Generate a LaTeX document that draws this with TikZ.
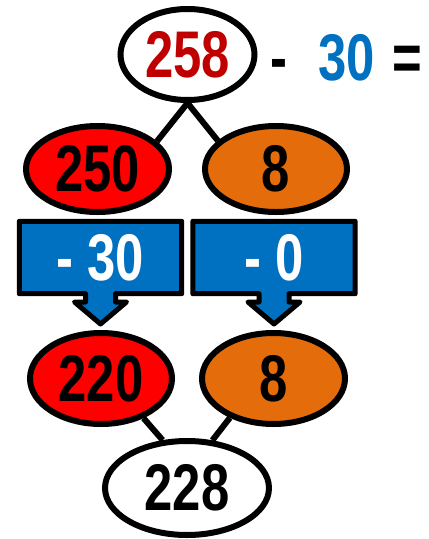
\documentclass[tikz,border=0pt]{standalone}
\usepackage{fontspec}
\newfontfamily\nf[FakeStretch=0.77]{Liberation Sans}
\usetikzlibrary{shapes.geometric,backgrounds}
\definecolor{fillred}{HTML}{FF0000}
\definecolor{fillorange}{HTML}{E46C0A}
\definecolor{txtred}{HTML}{C00000}
\definecolor{boxblue}{HTML}{0070C0}
\tikzset{
  num/.style={font=\nf\bfseries\fontsize{66}{66}\selectfont},
  oval/.style={ellipse, draw=black, line width=6pt, inner sep=0pt, num},
  link/.style={draw=black, line width=6pt},
  callout/.style={fill=boxblue, draw=black, line width=5pt, line join=round},
  boxtext/.style={num, text=white, inner sep=0pt, minimum width=162pt, minimum height=72pt},
  eqtext/.style={num, inner sep=0pt, anchor=base},
}
\begin{document}
\begin{tikzpicture}[x=1pt,y=-1pt]
\useasboundingbox (0,0) rectangle (429,539);
% ovals
\node[oval, fill=white, text=txtred, minimum width=134pt, minimum height=91pt] (top) at (187.5,54.5) {258};
\node[oval, fill=fillred, minimum width=143pt, minimum height=86pt] (l1) at (97.5,169) {250};
\node[oval, fill=fillorange, minimum width=142pt, minimum height=86pt] (l2) at (276,169) {8};
\node[oval, fill=fillred, minimum width=142pt, minimum height=91pt] (b1) at (101,378.5) {220};
\node[oval, fill=fillorange, minimum width=143pt, minimum height=91pt] (b2) at (273.5,378.5) {8};
\node[oval, fill=white, minimum width=164pt, minimum height=94pt] (bot) at (187,488) {228};
% equation text
\node[eqtext] (minus) at (278.5,80) {-};
\node[eqtext, text=boxblue] (thirty) at (346.5,80) {30};
\node[eqtext] (eq) at (407,80) {=};
% connectors
\begin{scope}[on background layer]
\draw[link] (top.south) -- (l1.25);
\draw[link] (top.south) -- (l2.154);
\draw[link] (b1.-43) -- (bot.117);
\draw[link] (b2.222) -- (bot.62);
\end{scope}
% callout boxes
\node[boxtext] (c1) at (100.5,257.5) {};
\node[boxtext] (c2) at (274,257.5) {};
\draw[callout] (c1.north west) -- (c1.north east) -- (c1.south east)
  -- ([xshift=15pt]c1.south) -- ([xshift=15pt]c1.south |- 0,302) -- ([xshift=26pt]c1.south |- 0,302)
  -- (c1.south |- 0,324) -- ([xshift=-26pt]c1.south |- 0,302) -- ([xshift=-15pt]c1.south |- 0,302)
  -- ([xshift=-15pt]c1.south) -- (c1.south west) -- cycle;
\draw[callout] (c2.north west) -- (c2.north east) -- (c2.south east)
  -- ([xshift=15pt]c2.south) -- ([xshift=15pt]c2.south |- 0,302) -- ([xshift=26pt]c2.south |- 0,302)
  -- (c2.south |- 0,324) -- ([xshift=-26pt]c2.south |- 0,302) -- ([xshift=-15pt]c2.south |- 0,302)
  -- ([xshift=-15pt]c2.south) -- (c2.south west) -- cycle;
\node[num, text=white, inner sep=0pt] (t1) at (c1) {- 30};
\node[num, text=white, inner sep=0pt] (t2) at (c2) {- 0};
\end{tikzpicture}
\end{document}
